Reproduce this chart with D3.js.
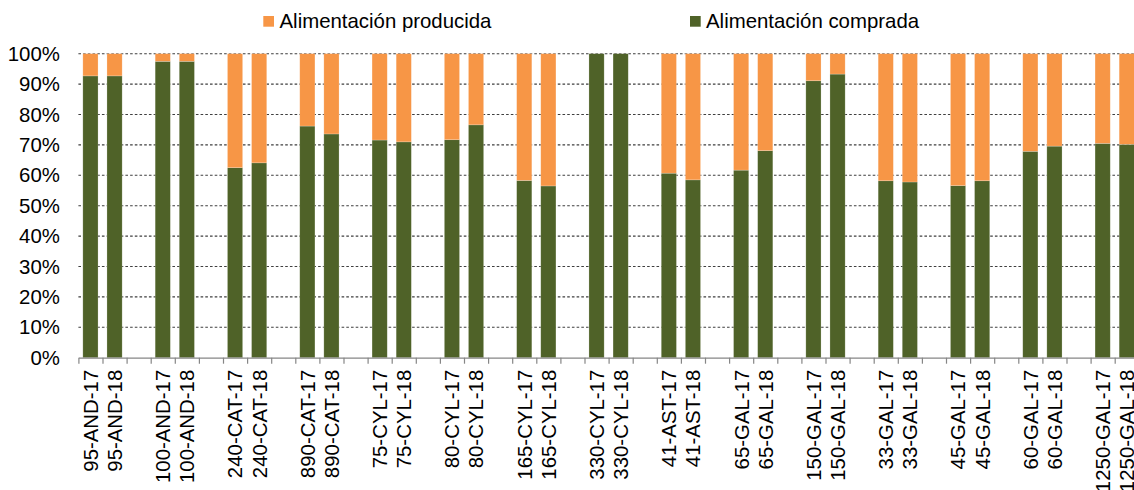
<!DOCTYPE html>
<html>
<head>
<meta charset="utf-8">
<script src="https://cdn.jsdelivr.net/npm/d3@7"></script>
<style>
  html, body { margin: 0; padding: 0; background: #fff; }
  svg { display: block; }
  text { font-family: "Liberation Sans", Arial, sans-serif; fill: #000; }
</style>
</head>
<body>
<svg id="chart" width="1134" height="490"></svg>
<script>
// Farm codes (size-region-year), two years per farm
const categories = [
  "95-AND-17", "95-AND-18", "100-AND-17", "100-AND-18",
  "240-CAT-17", "240-CAT-18", "890-CAT-17", "890-CAT-18",
  "75-CYL-17", "75-CYL-18", "80-CYL-17", "80-CYL-18",
  "165-CYL-17", "165-CYL-18", "330-CYL-17", "330-CYL-18",
  "41-AST-17", "41-AST-18", "65-GAL-17", "65-GAL-18",
  "150-GAL-17", "150-GAL-18", "33-GAL-17", "33-GAL-18",
  "45-GAL-17", "45-GAL-18", "60-GAL-17", "60-GAL-18",
  "1250-GAL-17", "1250-GAL-18"
];

// Share of purchased feed (%)
const comprada = [
  92.7, 92.7, 97.5, 97.5,
  62.5, 64.1, 76.2, 73.6,
  71.6, 71.0, 71.7, 76.6,
  58.3, 56.5, 100, 100,
  60.7, 58.5, 61.7, 68.1,
  91.1, 93.3, 58.2, 57.8,
  56.6, 58.2, 67.9, 69.6,
  70.5, 70.2
];

// Share of home-produced feed (%)
const producida = [
  7.3, 7.3, 2.5, 2.5,
  37.5, 35.9, 23.8, 26.4,
  28.4, 29.0, 28.3, 23.4,
  41.7, 43.5, 0, 0,
  39.3, 41.5, 38.3, 31.9,
  8.9, 6.7, 41.8, 42.2,
  43.4, 41.8, 32.1, 30.4,
  29.5, 29.8
];

const yTicks = [0, 10, 20, 30, 40, 50, 60, 70, 80, 90, 100];

const seriesColors = { "Alimentación comprada": "#4F6228", "Alimentación producida": "#F79646" };
const fontSize = 20.4;

// Rows for the stack; an empty slot separates each farm pair
const rows = categories.map((c, i) => ({
  key: c,
  label: c,
  "Alimentación comprada": comprada[i],
  "Alimentación producida": producida[i]
}));
const slots = [];
rows.forEach((r, i) => {
  slots.push(r);
  if (i % 2 === 1 && i < rows.length - 1) {
    slots.push({ key: "gap" + i, label: "", "Alimentación comprada": 0, "Alimentación producida": 0 });
  }
});

const svg = d3.select("#chart");
const plotLeft = 78.4, slotStep = 24.1;
const plotRight = plotLeft + slots.length * slotStep;
const plotTop = 53.7, plotBottom = 357.7;

const x = d3.scaleBand()
  .domain(slots.map(d => d.key))
  .range([plotLeft, plotRight])
  .paddingInner(0.37)
  .paddingOuter(0.185);

const xEdges = d3.scaleLinear().domain([0, slots.length]).range([plotLeft, plotRight]);

const y = d3.scaleLinear().domain([0, 100]).range([plotBottom, plotTop]);

// Dashed horizontal gridlines
svg.append("g")
  .selectAll("line")
  .data(yTicks.filter(t => t > 0))
  .join("line")
  .attr("x1", plotLeft)
  .attr("x2", plotRight)
  .attr("y1", d => y(d))
  .attr("y2", d => y(d))
  .attr("stroke", "#3f3f3f")
  .attr("stroke-width", 1.1)
  .attr("stroke-dasharray", "2.6,2.1");

// Stacked bars: purchased at the bottom, produced on top
const stack = d3.stack().keys(["Alimentación comprada", "Alimentación producida"]);
const layers = stack(slots);

svg.append("g")
  .selectAll("g")
  .data(layers)
  .join("g")
  .attr("fill", d => seriesColors[d.key])
  .selectAll("rect")
  .data(d => d.filter(p => p.data.label !== "" && p[1] > p[0]))
  .join("rect")
  .attr("x", d => x(d.data.key))
  .attr("width", x.bandwidth())
  .attr("y", d => y(d[1]))
  .attr("height", d => y(d[0]) - y(d[1]))
  .attr("stroke", "#ffffff")
  .attr("stroke-opacity", 0.35)
  .attr("stroke-width", 0.6);

// Y axis labels
const yAxis = svg.append("g")
  .attr("transform", `translate(${plotLeft},0)`)
  .call(d3.axisLeft(y).tickValues(yTicks).tickFormat(d => d + "%").tickSize(0).tickPadding(18.5));
yAxis.select(".domain").remove();
yAxis.selectAll("text")
  .attr("font-size", fontSize)
  .attr("font-family", "'Liberation Sans', Arial, sans-serif")
  .attr("fill", "#000");

// X axis line with tick marks at slot boundaries
const xAxisTicks = svg.append("g")
  .attr("transform", `translate(0,${plotBottom})`)
  .call(d3.axisBottom(xEdges).tickValues(d3.range(slots.length + 1)).tickFormat("").tickSizeInner(6).tickSizeOuter(0));
xAxisTicks.select(".domain").attr("stroke", "#868686").attr("stroke-width", 1.2);
xAxisTicks.selectAll(".tick line").attr("stroke", "#868686").attr("stroke-width", 1.2);

// Rotated category labels
const xAxisLabels = svg.append("g")
  .attr("transform", `translate(0,${plotBottom})`)
  .call(d3.axisBottom(x).tickFormat(k => slots.find(s => s.key === k).label).tickSize(0));
xAxisLabels.select(".domain").remove();
xAxisLabels.selectAll("text")
  .attr("font-size", fontSize)
  .attr("font-family", "'Liberation Sans', Arial, sans-serif")
  .attr("fill", "#000")
  .attr("text-anchor", "end")
  .attr("transform", "translate(0,12) rotate(-90)")
  .attr("x", 0)
  .attr("y", 0)
  .attr("dy", "0.36em");

// Legend
const legendPos = [
  { name: "Alimentación producida", sx: 263.3, tx: 279.5 },
  { name: "Alimentación comprada", sx: 690, tx: 706 }
];
const legend = svg.append("g");
legend.selectAll("rect")
  .data(legendPos)
  .join("rect")
  .attr("x", d => d.sx)
  .attr("y", 16)
  .attr("width", 10.7)
  .attr("height", 10.7)
  .attr("fill", d => seriesColors[d.name]);
legend.selectAll("text")
  .data(legendPos)
  .join("text")
  .attr("x", d => d.tx)
  .attr("y", 27.8)
  .attr("font-size", fontSize)
  .text(d => d.name);
</script>
</body>
</html>
